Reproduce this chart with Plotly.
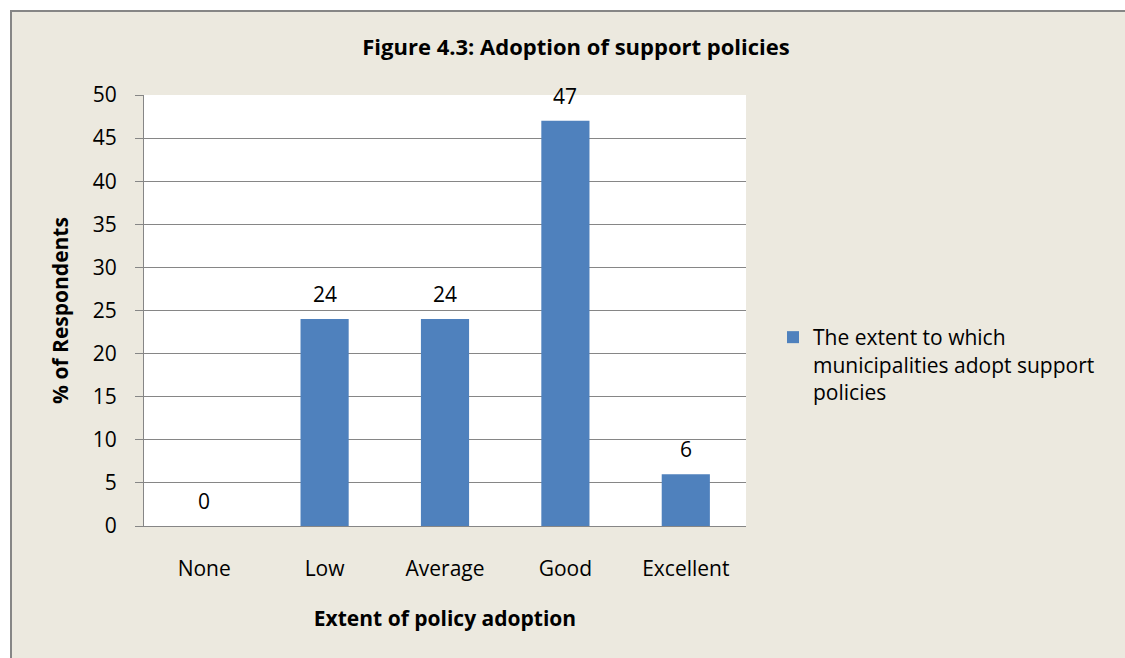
import plotly.graph_objects as go

# Survey results: extent to which municipalities adopt support policies
categories = ["None", "Low", "Average", "Good", "Excellent"]
percent_respondents = [0, 24, 24, 47, 6]
y_ticks = [0, 5, 10, 15, 20, 25, 30, 35, 40, 45, 50]
series_name = "The extent to which<br>municipalities adopt support<br>policies"

W, H = 1125, 658
L, R, T, B = 144, 379, 95, 132
plot_w = W - L - R
plot_h = H - T - B

BG = "#ECE9DF"
GRID = "#868686"
BAR = "#4F81BD"
FONT = "Open Sans"
FS = 21


def px_x(px):
    return (px - L) / plot_w


def px_y(py):
    return (H - B - py) / plot_h


fig = go.Figure(
    go.Bar(
        x=categories,
        y=percent_respondents,
        name=series_name,
        marker=dict(color=BAR, line=dict(width=0)),
        showlegend=True,
    )
)

# value labels floating above each bar
value_labels = [
    dict(x=c, y=v, text=str(v), xref="x", yref="y", showarrow=False,
         yanchor="middle", yshift=25,
         font=dict(family=FONT, size=FS, color="#000000"))
    for c, v in zip(categories, percent_respondents)
]

fig.update_layout(
    width=W,
    height=H,
    margin=dict(l=L, r=R, t=T, b=B),
    paper_bgcolor=BG,
    plot_bgcolor="#FFFFFF",
    bargap=0.6,
    font=dict(family=FONT, size=FS, color="#000000"),
    title=dict(
        text="<b>Figure 4.3: Adoption of support policies</b>",
        font=dict(family=FONT, size=22, color="#000000"),
        x=px_x(576),
        xref="paper",
        xanchor="center",
        y=1 - 47 / H,
        yref="container",
        yanchor="middle",
    ),
    legend=dict(
        x=px_x(773),
        y=px_y(317),
        xanchor="left",
        yanchor="top",
        valign="top",
        bgcolor="rgba(0,0,0,0)",
        font=dict(family=FONT, size=FS, color="#000000"),
        tracegroupgap=0,
    ),
    annotations=value_labels,
    xaxis=dict(
        title=dict(
            text="<b>Extent of policy adoption</b>",
            font=dict(family=FONT, size=FS),
            standoff=30,
        ),
        showline=True,
        linecolor=GRID,
        linewidth=1,
        ticks="",
        showgrid=False,
        tickfont=dict(family=FONT, size=FS),
        ticklabelstandoff=24,
    ),
    yaxis=dict(
        title=dict(
            text="<b>% of Respondents</b>",
            font=dict(family=FONT, size=FS),
            standoff=18,
        ),
        range=[0, 50],
        tickvals=y_ticks,
        ticks="outside",
        ticklen=8,
        tickcolor=GRID,
        showgrid=True,
        gridcolor=GRID,
        gridwidth=1,
        showline=True,
        linecolor=GRID,
        linewidth=1,
        zeroline=False,
        tickfont=dict(family=FONT, size=FS),
        ticklabelstandoff=14,
    ),
    shapes=[
        # white margin outside the chart frame
        dict(type="rect", xref="paper", yref="paper",
             x0=px_x(-5), x1=px_x(W + 5), y0=px_y(10), y1=px_y(-5),
             fillcolor="#FFFFFF", line=dict(width=0), layer="above"),
        dict(type="rect", xref="paper", yref="paper",
             x0=px_x(-5), x1=px_x(10), y0=px_y(H + 5), y1=px_y(-5),
             fillcolor="#FFFFFF", line=dict(width=0), layer="above"),
        # chart frame edges
        dict(type="line", xref="paper", yref="paper",
             x0=px_x(10), x1=px_x(W + 5), y0=px_y(11), y1=px_y(11),
             line=dict(color=GRID, width=2), layer="above"),
        dict(type="line", xref="paper", yref="paper",
             x0=px_x(11), x1=px_x(11), y0=px_y(10), y1=px_y(H + 5),
             line=dict(color=GRID, width=2), layer="above"),
    ],
)

fig.write_html("out.html")
